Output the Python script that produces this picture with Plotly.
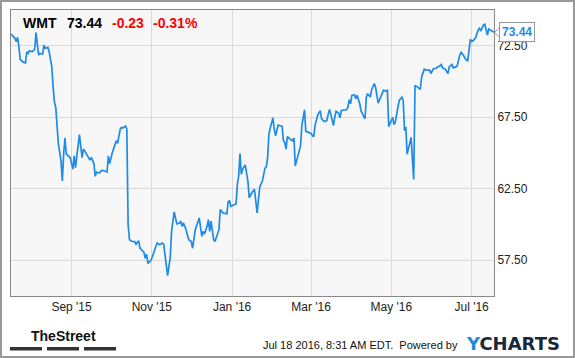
import plotly.graph_objects as go

# ---------------- data ----------------
dates = [
    "2015-07-17","2015-07-20","2015-07-21","2015-07-22","2015-07-23","2015-07-24","2015-07-26","2015-07-28",
    "2015-07-29","2015-07-30","2015-07-31","2015-08-02","2015-08-04","2015-08-05","2015-08-07","2015-08-08",
    "2015-08-10","2015-08-11","2015-08-12","2015-08-14","2015-08-15","2015-08-17","2015-08-18","2015-08-19",
    "2015-08-20","2015-08-21","2015-08-22","2015-08-24","2015-08-25","2015-08-26","2015-08-27","2015-08-28",
    "2015-08-30","2015-08-31","2015-09-02","2015-09-03","2015-09-04","2015-09-05","2015-09-07","2015-09-09",
    "2015-09-10","2015-09-11","2015-09-12","2015-09-14","2015-09-15","2015-09-16","2015-09-18","2015-09-19",
    "2015-09-20","2015-09-22","2015-09-24","2015-09-26","2015-09-28","2015-09-29","2015-09-30","2015-10-02",
    "2015-10-04","2015-10-05","2015-10-06","2015-10-08","2015-10-09","2015-10-10","2015-10-12","2015-10-13",
    "2015-10-14","2015-10-15","2015-10-17","2015-10-19","2015-10-20","2015-10-22","2015-10-23","2015-10-24",
    "2015-10-26","2015-10-27","2015-10-28","2015-10-29","2015-10-31","2015-11-01","2015-11-03","2015-11-05",
    "2015-11-07","2015-11-09","2015-11-10","2015-11-11","2015-11-13","2015-11-15","2015-11-16","2015-11-18",
    "2015-11-20","2015-11-22","2015-11-23","2015-11-24","2015-11-25","2015-11-27","2015-11-29","2015-12-01",
    "2015-12-02","2015-12-04","2015-12-06","2015-12-07","2015-12-09","2015-12-10","2015-12-11","2015-12-13",
    "2015-12-14","2015-12-15","2015-12-16","2015-12-18","2015-12-19","2015-12-21","2015-12-22","2015-12-23",
    "2015-12-25","2015-12-27","2015-12-28","2015-12-29","2015-12-30","2015-12-31","2016-01-02","2016-01-04",
    "2016-01-05","2016-01-06","2016-01-07","2016-01-08","2016-01-09","2016-01-11","2016-01-13","2016-01-14",
    "2016-01-16","2016-01-18","2016-01-20","2016-01-22","2016-01-24","2016-01-25","2016-01-26","2016-01-27",
    "2016-01-28","2016-01-29","2016-01-30","2016-02-01","2016-02-02","2016-02-03","2016-02-05","2016-02-08",
    "2016-02-09","2016-02-10","2016-02-11","2016-02-12","2016-02-14","2016-02-16","2016-02-17","2016-02-18",
    "2016-02-20","2016-02-22","2016-02-23","2016-02-25","2016-02-26","2016-02-28","2016-03-01","2016-03-02",
    "2016-03-03","2016-03-04","2016-03-06","2016-03-08","2016-03-09","2016-03-11","2016-03-13","2016-03-14",
    "2016-03-15","2016-03-16","2016-03-18","2016-03-19","2016-03-20","2016-03-22","2016-03-23","2016-03-24",
    "2016-03-26","2016-03-28","2016-03-29","2016-03-30","2016-03-31","2016-04-01","2016-04-03","2016-04-04",
    "2016-04-05","2016-04-07","2016-04-08","2016-04-11","2016-04-12","2016-04-13","2016-04-15","2016-04-16",
    "2016-04-18","2016-04-19","2016-04-21","2016-04-23","2016-04-25","2016-04-27","2016-04-28","2016-04-29",
    "2016-05-01","2016-05-02","2016-05-03","2016-05-04","2016-05-06","2016-05-07","2016-05-09","2016-05-10",
    "2016-05-11","2016-05-12","2016-05-13","2016-05-15","2016-05-16","2016-05-18","2016-05-19","2016-05-21",
    "2016-05-23","2016-05-24","2016-05-26","2016-05-28","2016-05-30","2016-05-31","2016-06-02","2016-06-04",
    "2016-06-05","2016-06-07","2016-06-08","2016-06-09","2016-06-11","2016-06-13","2016-06-14","2016-06-16",
    "2016-06-17","2016-06-19","2016-06-20","2016-06-22","2016-06-23","2016-06-25","2016-06-26","2016-06-28",
    "2016-06-29","2016-06-30","2016-07-02","2016-07-03","2016-07-04","2016-07-06","2016-07-07","2016-07-08",
    "2016-07-09","2016-07-10","2016-07-11","2016-07-13","2016-07-14","2016-07-15","2016-07-17","2016-07-18",
]
prices = [
    73.32,73.02,72.78,73.09,72.43,71.54,71.37,71.30,
    72.08,71.96,72.15,72.08,72.25,73.42,71.85,71.96,
    71.92,72.55,72.32,72.39,72.08,71.02,69.61,68.56,
    68.20,66.56,65.63,64.45,63.04,64.92,66.05,64.92,
    64.80,64.68,63.87,64.80,63.98,64.92,66.28,64.68,
    65.27,65.15,64.96,64.60,64.50,64.70,64.26,63.37,
    63.67,63.60,63.79,63.74,63.67,64.80,64.26,65.04,
    65.51,65.86,65.67,66.68,66.80,66.75,66.89,66.68,
    59.99,58.93,58.81,58.81,58.63,58.86,58.34,58.23,
    58.06,57.64,57.92,57.28,57.45,57.64,58.23,58.70,
    58.58,58.70,58.63,57.88,56.42,57.70,59.50,60.88,
    60.04,60.11,60.23,59.87,60.11,59.64,58.93,58.81,
    58.34,59.64,60.11,60.46,59.17,59.52,59.33,59.87,
    60.34,59.52,60.23,58.93,58.81,59.28,59.64,61.05,
    60.81,60.77,60.74,61.58,61.68,61.28,61.35,61.44,
    62.81,63.39,64.96,63.51,63.87,64.17,63.04,61.87,
    62.22,62.46,60.81,62.62,63.04,63.39,63.94,64.03,
    64.68,66.37,66.80,67.46,66.68,66.21,66.96,66.87,
    65.86,65.74,65.27,66.14,65.98,65.86,66.05,64.10,
    64.80,65.51,66.92,68.02,66.51,66.44,66.37,66.21,
    66.14,66.92,67.63,67.97,67.39,67.20,67.27,67.70,
    68.05,67.70,66.92,67.50,67.92,67.78,67.46,67.97,
    68.02,68.02,68.20,68.73,68.44,69.03,69.08,68.80,
    69.03,68.44,67.92,67.39,68.91,69.15,68.91,69.43,
    69.85,69.61,68.49,68.91,69.38,69.33,69.38,66.84,
    67.32,67.50,66.99,67.15,68.20,68.68,68.91,68.68,
    66.56,66.84,64.92,65.63,66.09,63.15,69.73,69.61,
    69.45,70.32,70.86,70.79,70.79,70.56,70.91,70.91,
    71.02,71.09,71.19,70.95,70.86,70.56,71.02,71.19,
    70.95,71.02,71.09,71.85,72.04,71.80,71.61,71.42,
    72.43,72.90,72.83,72.97,73.06,73.61,73.72,73.53,
    73.72,73.96,74.00,73.25,73.67,73.60,73.49,73.44,
]
ticker = "WMT"
last_price = 73.44
change = "-0.23"
change_pct = "-0.31%"
x_range = ["2015-07-17", "2016-07-18"]
x_tick_vals = ["2015-09-01", "2015-11-01", "2016-01-01", "2016-03-01", "2016-05-01", "2016-07-01"]
x_tick_text = ["Sep '15", "Nov '15", "Jan '16", "Mar '16", "May '16", "Jul '16"]
y_range = [55, 75]
y_tick_vals = [57.5, 62.5, 67.5, 72.5]
y_tick_text = ["57.50", "62.50", "67.50", "72.50"]
timestamp = "Jul 18 2016, 8:31 AM EDT.  Powered by"

# ---------------- layout geometry ----------------
W, H = 575, 358
ML, MR, MT, MB = 11, 81, 10, 62
PW, PH = W - ML - MR, H - MT - MB

def px(x):
    return (x - ML) / PW

def py(y):
    return (H - MB - y) / PH

LINE_BLUE = "#1f8be8"
FONT = "Liberation Sans, Arial, sans-serif"

fig = go.Figure()
fig.add_trace(go.Scatter(
    x=dates, y=prices, mode="lines",
    line=dict(color=LINE_BLUE, width=1.7),
    hoverinfo="skip", showlegend=False,
))

annotations = []
# header texts
hdr = [
    (21, "<b>%s</b>" % ticker, "#000000"),
    (65, "<b>%.2f</b>" % last_price, "#000000"),
    (110, "<b>%s</b>" % change, "#ff0000"),
    (151, "<b>%s</b>" % change_pct, "#ff0000"),
]
for x0, t, c in hdr:
    annotations.append(dict(
        xref="paper", yref="paper", x=px(x0), y=py(23), text=t, showarrow=False,
        xanchor="left", yanchor="middle", font=dict(family=FONT, size=14, color=c),
    ))

# last price tag
annotations.append(dict(
    xref="paper", yref="y", x=px(499), y=last_price, text="<b>%.2f</b>" % last_price,
    showarrow=False, xanchor="left", yanchor="middle",
    font=dict(family=FONT, size=12, color=LINE_BLUE),
    bgcolor="#ffffff", bordercolor="#999999", borderwidth=1, borderpad=2,
))

# footer
annotations.append(dict(
    xref="paper", yref="paper", x=px(63), y=py(336), text="<b>TheStreet</b>",
    showarrow=False, xanchor="center", yanchor="middle",
    font=dict(family="Liberation Sans Narrow, Liberation Sans, Arial", size=14, color="#111111"),
))
annotations.append(dict(
    xref="paper", yref="paper", x=px(460), y=py(345), text=timestamp,
    showarrow=False, xanchor="right", yanchor="middle",
    font=dict(family=FONT, size=11, color="#111111"),
))
annotations.append(dict(
    xref="paper", yref="paper", x=px(464), y=py(343),
    text="<b><span style='color:#1a8be0'>Y</span>CHARTS</b>",
    showarrow=False, xanchor="left", yanchor="middle",
    font=dict(family="DejaVu Sans, sans-serif", size=18, color="#17283a"),
))

shapes = []
# outer frame
shapes.append(dict(type="rect", xref="paper", yref="paper",
                   x0=px(1), x1=px(574), y0=py(1), y1=py(357),
                   line=dict(color="#999999", width=2), fillcolor="rgba(0,0,0,0)", layer="above"))
# TheStreet bars
for a, b in [(10, 42), (47, 79), (84, 116)]:
    shapes.append(dict(type="rect", xref="paper", yref="paper",
                       x0=px(a), x1=px(b), y0=py(350.5), y1=py(347),
                       line=dict(width=0), fillcolor="#333333", layer="above"))
# pointer chevron of the price tag
shapes.append(dict(type="path", xref="paper", yref="paper",
                   path="M %f %f L %f %f L %f %f" % (px(499.5), py(28), px(494.5), py(32.5), px(499.5), py(37)),
                   line=dict(color="#999999", width=1), layer="above"))

fig.update_layout(
    width=W, height=H,
    margin=dict(l=ML, r=MR, t=MT, b=MB, pad=0),
    paper_bgcolor="#ffffff", plot_bgcolor="#f7f7f7",
    font=dict(family=FONT, size=12, color="#222222"),
    xaxis=dict(
        type="date", range=x_range, tickvals=x_tick_vals, ticktext=x_tick_text,
        showgrid=True, gridcolor="#d9d9d9", gridwidth=1,
        showline=True, linecolor="#888888", linewidth=1, mirror=True,
        ticks="", zeroline=False, fixedrange=True,
        tickfont=dict(size=12, color="#222222"),
    ),
    yaxis=dict(
        range=y_range, tickvals=y_tick_vals, ticktext=y_tick_text, side="right",
        showgrid=True, gridcolor="#d9d9d9", gridwidth=1,
        showline=True, linecolor="#888888", linewidth=1, mirror=True,
        ticks="", zeroline=False, fixedrange=True,
        tickfont=dict(size=12, color="#222222"),
    ),
    annotations=annotations,
    shapes=shapes,
    showlegend=False,
)

fig.write_html(
    "out.html",
    config={"displayModeBar": False},
    post_script="document.body.style.margin='0';document.body.style.overflow='hidden';",
)
